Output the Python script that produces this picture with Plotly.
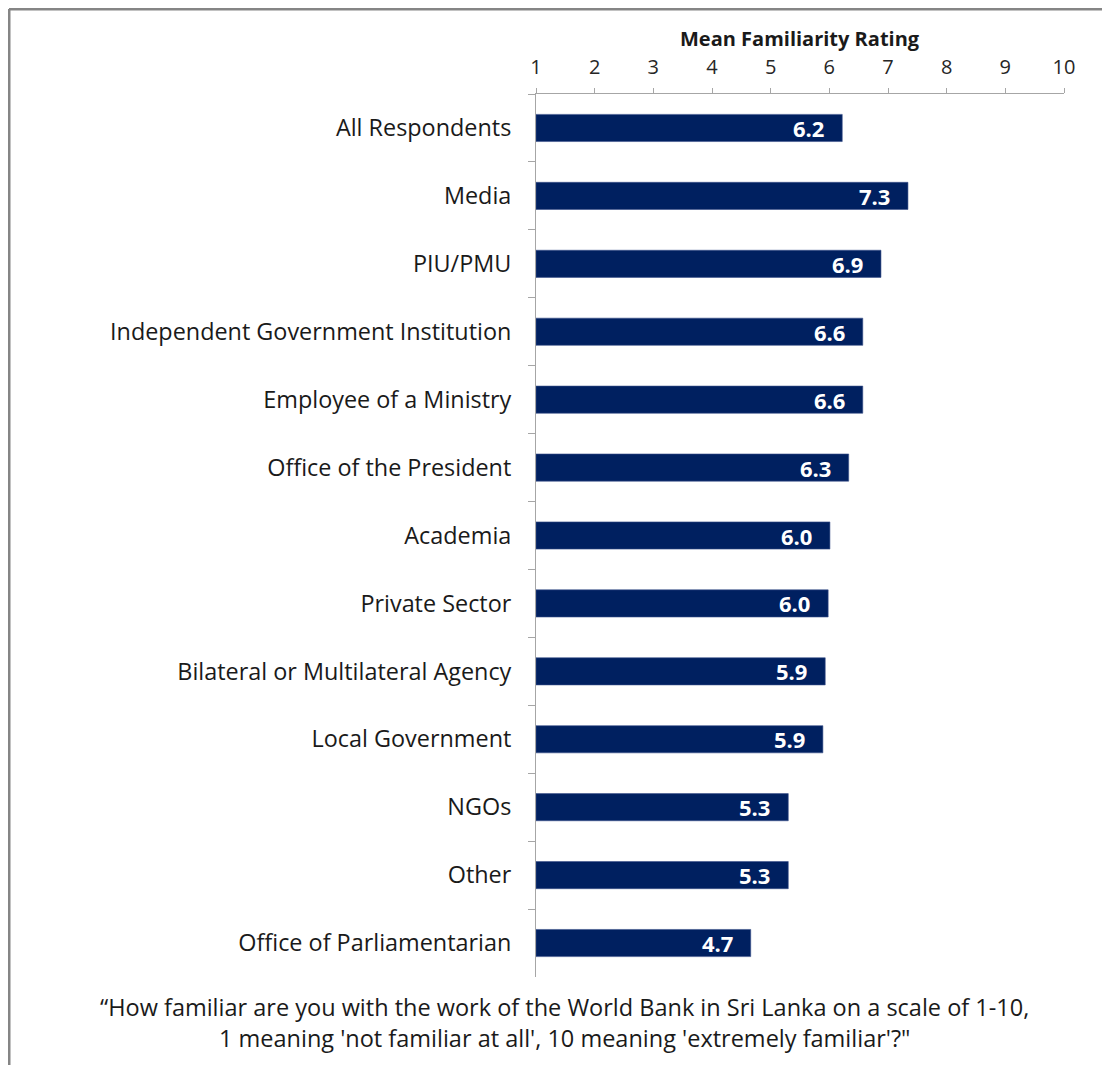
import plotly.graph_objects as go

categories = [
    "All Respondents",
    "Media",
    "PIU/PMU",
    "Independent Government Institution",
    "Employee of a Ministry",
    "Office of the President",
    "Academia",
    "Private Sector",
    "Bilateral or Multilateral Agency",
    "Local Government",
    "NGOs",
    "Other",
    "Office of Parliamentarian",
]
mean_rating = [6.22, 7.34, 6.88, 6.57, 6.57, 6.33, 6.01, 5.98, 5.93, 5.89, 5.30, 5.30, 4.66]
x_ticks = [1, 2, 3, 4, 5, 6, 7, 8, 9, 10]
axis_title = "Mean Familiarity Rating"
caption = [
    "\u201cHow familiar are you with the work of the World Bank in Sri Lanka on a scale of 1-10,",
    "1 meaning 'not familiar at all', 10 meaning 'extremely familiar'?\"",
]

# the page puts the figure 8px in from the top-left corner of the window
W, H = 1102, 1057
L, R, T, B = 528, 46, 86, 88
pw, ph = W - L - R, H - T - B
FONT = "Open Sans"

fig = go.Figure()
fig.add_trace(
    go.Bar(
        y=categories,
        x=[v - 1 for v in mean_rating],
        base=1,
        orientation="h",
        width=0.4,
        marker=dict(color="#002060", line=dict(color="#3b5189", width=0.6)),
        hoverinfo="skip",
    )
)

# value labels at the inside end of each bar
for cat, v in zip(categories, mean_rating):
    fig.add_annotation(
        x=v, y=cat, xref="x", yref="y",
        text=f"<b>{v:.1f}</b>", showarrow=False,
        xanchor="right", xshift=-16,
        font=dict(family=FONT, size=22, color="white"),
    )

fig.add_annotation(
    x=0.5, y=1, xref="paper", yref="paper", yshift=56,
    text=f"<b>{axis_title}</b>", showarrow=False, yanchor="middle",
    font=dict(family=FONT, size=20, color="#1a1a1a"),
)

cap_x = (564 - 8 - L) / pw
for i, line in enumerate(caption):
    fig.add_annotation(
        x=cap_x, y=0, xref="paper", yref="paper",
        yshift=-(30 + 31 * i), yanchor="middle", xanchor="center",
        text=line, showarrow=False,
        font=dict(family=FONT, size=23.5, color="#1a1a1a"),
    )

# frame around the chart (only left and top edges are visible)
bx0 = (1 - L) / pw
by1 = 1 + (T - 1) / ph
fig.add_shape(type="line", xref="paper", yref="paper", x0=bx0, x1=bx0, y0=-0.2, y1=by1,
              line=dict(color="#858585", width=3))
fig.add_shape(type="line", xref="paper", yref="paper", x0=bx0, x1=1.2, y0=by1, y1=by1,
              line=dict(color="#858585", width=3))

fig.update_layout(
    width=W,
    height=H,
    margin=dict(l=L, r=R, t=T, b=B),
    plot_bgcolor="white",
    paper_bgcolor="white",
    showlegend=False,
    bargap=0.6,
    xaxis=dict(
        side="top",
        range=[1, 10],
        tickvals=x_ticks,
        ticks="outside",
        ticklen=5,
        tickcolor="#a6a6a6",
        showline=True,
        linecolor="#a6a6a6",
        linewidth=1,
        showgrid=False,
        zeroline=False,
        ticklabelstandoff=6,
        tickfont=dict(family=FONT, size=20, color="#262626"),
    ),
    yaxis=dict(
        type="category",
        autorange="reversed",
        ticks="outside",
        tickson="boundaries",
        ticklen=7,
        tickcolor="#a6a6a6",
        showline=True,
        linecolor="#a6a6a6",
        linewidth=1,
        showgrid=False,
        ticklabelstandoff=19,
        tickfont=dict(family=FONT, size=23.4, color="#1a1a1a"),
    ),
)

fig.write_html("out.html")
